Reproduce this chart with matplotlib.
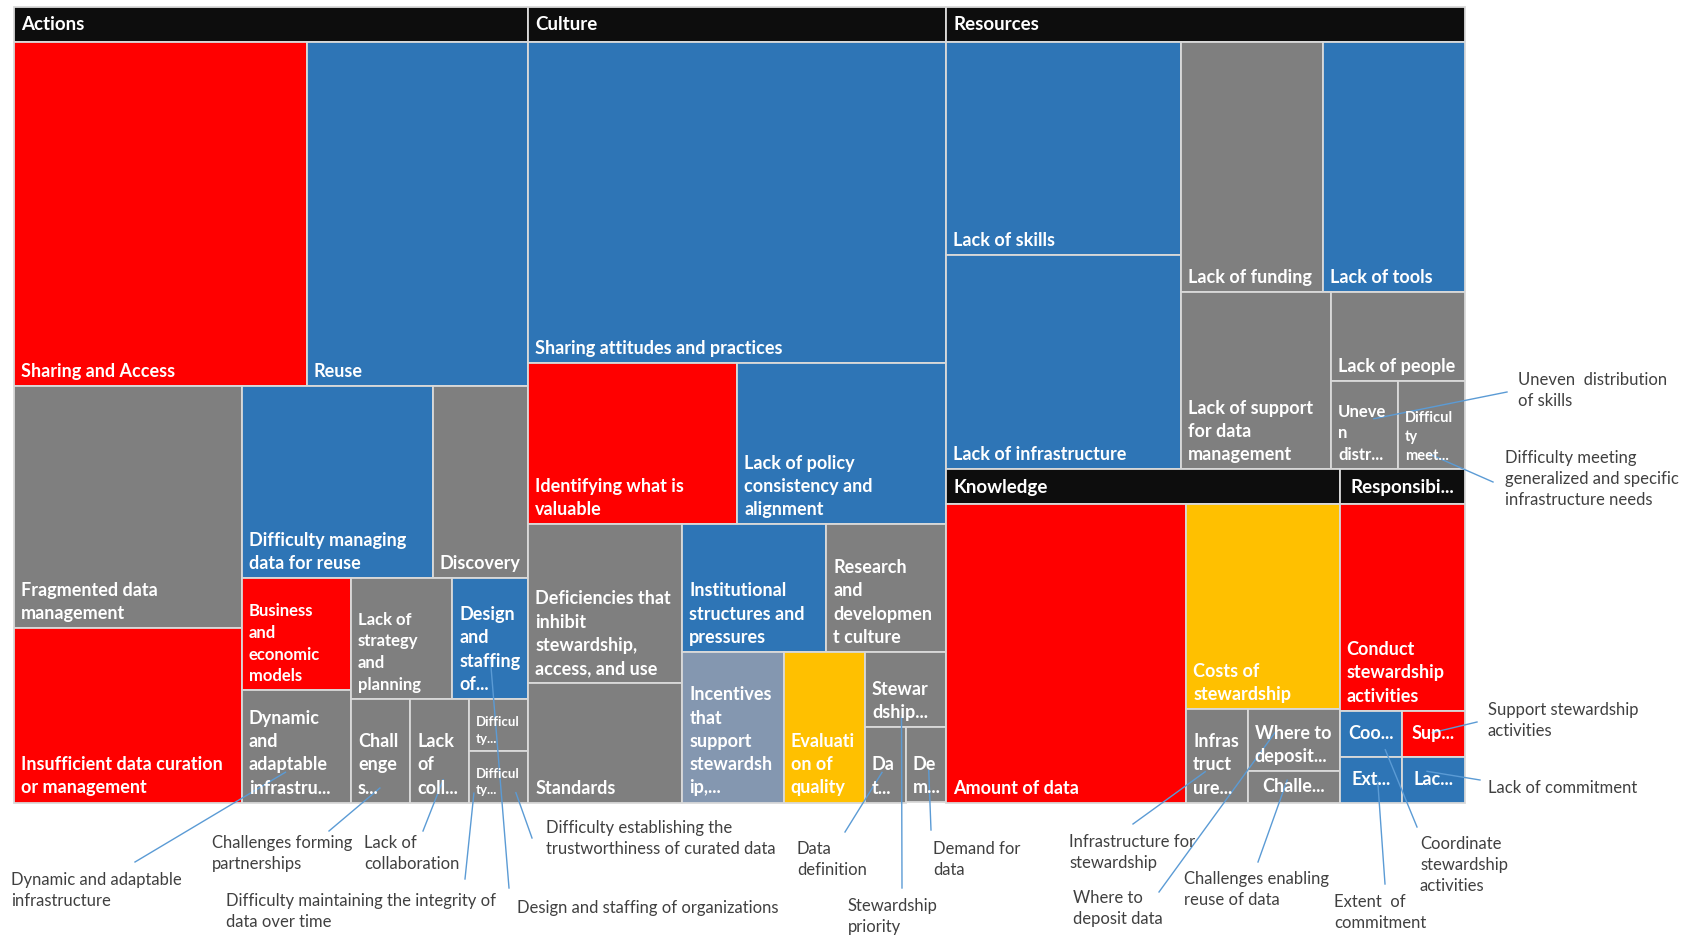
import matplotlib.pyplot as plt
from matplotlib.patches import Rectangle

plt.rcParams['font.family'] = ['Lato', 'DejaVu Sans']

RED = '#FF0000'
BLUE = '#2E75B6'
GRAY = '#7F7F7F'
GOLD = '#FFC000'
SLATE = '#8497B0'

# ---- data (counts) ----
group_names = ['Actions', 'Culture', 'Resources', 'Knowledge', 'Responsibilities']
group_labels = ['Actions', 'Culture', 'Resources', 'Knowledge', 'Responsibi...']

actions_items = ['Sharing and Access', 'Reuse', 'Fragmented data management',
                 'Insufficient data curation or management', 'Difficulty managing data for reuse',
                 'Discovery', 'Business and economic models', 'Dynamic and adaptable infrastructure',
                 'Lack of strategy and planning', 'Design and staffing of organizations',
                 'Challenges forming partnerships', 'Lack of collaboration',
                 'Difficulty maintaining the integrity of data over time',
                 'Difficulty establishing the trustworthiness of curated data']
actions_counts = [33, 25, 18, 13, 12, 6, 4, 4, 4, 3, 2, 2, 1, 1]
actions_colors = [RED, BLUE, GRAY, RED, BLUE, GRAY, RED, GRAY, GRAY, BLUE, GRAY, GRAY, GRAY, GRAY]
actions_labels = ['Sharing and Access', 'Reuse', 'Fragmented data\nmanagement',
                  'Insufficient data curation\nor management', 'Difficulty managing\ndata for reuse',
                  'Discovery', 'Business\nand\neconomic\nmodels', 'Dynamic\nand\nadaptable\ninfrastru...',
                  'Lack of\nstrategy\nand\nplanning', 'Design\nand\nstaffing\nof...',
                  'Chall\nenge\ns...', 'Lack\nof\ncoll...', 'Difficul\nty...', 'Difficul\nty...']

culture_items = ['Sharing attitudes and practices', 'Identifying what is valuable',
                 'Lack of policy consistency and alignment',
                 'Deficiencies that inhibit stewardship, access, and use', 'Standards',
                 'Institutional structures and pressures', 'Research and development culture',
                 'Incentives that support stewardship', 'Evaluation of quality',
                 'Stewardship priority', 'Data definition', 'Demand for data']
culture_counts = [44, 11, 11, 8, 6, 6, 5, 5, 4, 2, 1, 1]
culture_colors = [BLUE, RED, BLUE, GRAY, GRAY, BLUE, GRAY, SLATE, GOLD, GRAY, GRAY, GRAY]
culture_labels = ['Sharing attitudes and practices', 'Identifying what is\nvaluable',
                  'Lack of policy\nconsistency and\nalignment',
                  'Deficiencies that\ninhibit\nstewardship,\naccess, and use', 'Standards',
                  'Institutional\nstructures and\npressures', 'Research\nand\ndevelopmen\nt culture',
                  'Incentives\nthat\nsupport\nstewardsh\nip,...', 'Evaluati\non of\nquality',
                  'Stewar\ndship...', 'Da\nt...', 'De\nm...']

resources_items = ['Lack of skills', 'Lack of infrastructure', 'Lack of funding', 'Lack of tools',
                   'Lack of support for data management', 'Lack of people',
                   'Uneven distribution of skills',
                   'Difficulty meeting generalized and specific infrastructure needs']
resources_counts = [17, 17, 12, 12, 9, 4, 2, 2]
resources_colors = [BLUE, BLUE, GRAY, BLUE, GRAY, GRAY, GRAY, GRAY]
resources_labels = ['Lack of skills', 'Lack of infrastructure', 'Lack of funding', 'Lack of tools',
                    'Lack of support\nfor data\nmanagement', 'Lack of people',
                    'Uneve\nn\ndistr...', 'Difficul\nty\nmeet...']

knowledge_items = ['Amount of data', 'Costs of stewardship', 'Infrastructure for stewardship',
                   'Where to deposit data', 'Challenges enabling reuse of data']
knowledge_counts = [25, 11, 2, 2, 1]
knowledge_colors = [RED, GOLD, GRAY, GRAY, GRAY]
knowledge_labels = ['Amount of data', 'Costs of\nstewardship', 'Infras\ntruct\nure...',
                    'Where to\ndeposit...', 'Challe...']

resp_items = ['Conduct stewardship activities', 'Coordinate stewardship activities',
              'Extent of commitment', 'Support stewardship activities', 'Lack of commitment']
resp_counts = [9, 1, 1, 1, 1]
resp_colors = [RED, BLUE, BLUE, RED, BLUE]
resp_labels = ['Conduct\nstewardship\nactivities', 'Coo...', 'Ext...', 'Sup...', 'Lac...']

groups = [
    (actions_items, actions_counts, actions_colors, actions_labels),
    (culture_items, culture_counts, culture_colors, culture_labels),
    (resources_items, resources_counts, resources_colors, resources_labels),
    (knowledge_items, knowledge_counts, knowledge_colors, knowledge_labels),
    (resp_items, resp_counts, resp_colors, resp_labels),
]

# callouts: item, anchor (fraction of its cell), text, text left/top, line end
callout_items = ['Dynamic and adaptable infrastructure', 'Challenges forming partnerships',
                 'Lack of collaboration', 'Difficulty maintaining the integrity of data over time',
                 'Design and staffing of organizations',
                 'Difficulty establishing the trustworthiness of curated data',
                 'Data definition', 'Stewardship priority', 'Demand for data',
                 'Infrastructure for stewardship', 'Where to deposit data',
                 'Challenges enabling reuse of data', 'Extent of commitment',
                 'Coordinate stewardship activities', 'Support stewardship activities',
                 'Lack of commitment', 'Uneven distribution of skills',
                 'Difficulty meeting generalized and specific infrastructure needs']
callout_texts = ['Dynamic and adaptable\ninfrastructure', 'Challenges forming\npartnerships',
                 'Lack of\ncollaboration', 'Difficulty maintaining the integrity of\ndata over time',
                 'Design and staffing of organizations',
                 'Difficulty establishing the\ntrustworthiness of curated data',
                 'Data\ndefinition', 'Stewardship\npriority', 'Demand for\ndata',
                 'Infrastructure for\nstewardship', 'Where to\ndeposit data',
                 'Challenges enabling\nreuse of data', 'Extent  of\ncommitment',
                 'Coordinate\nstewardship\nactivities', 'Support stewardship\nactivities',
                 'Lack of commitment', 'Uneven  distribution\nof skills',
                 'Difficulty meeting\ngeneralized and specific\ninfrastructure needs']
callout_anchor = [(0.40, 0.73), (0.49, 0.86), (0.56, 0.78), (0.08, 1.82), (0.50, 0.66),
                  (0.79, 0.81), (0.42, 0.60), (0.45, 0.87), (0.57, 0.57), (0.31, 0.67),
                  (0.30, 0.37), (0.43, 0.28), (0.61, 0.55), (0.73, 0.85), (0.48, 0.48),
                  (0.40, 0.32), (0.64, 0.43), (0.48, 0.83)]
callout_text_pos = [(11, 872), (212, 835), (364, 835), (226, 893), (517, 900), (546, 820),
                    (797, 841), (848, 898), (933, 841), (1069, 834), (1073, 890), (1184, 871),
                    (1334, 894), (1420, 836), (1488, 702), (1488, 780), (1518, 372), (1505, 450)]
callout_line_end = [(135, 862), (329, 831), (423, 831), (465, 879), (509, 888), (532, 838),
                    (845, 832), (902, 888), (931, 830), (1133, 824), (1159, 892), (1258, 862),
                    (1385, 884), (1417, 827), (1477, 722), (1480, 780), (1507, 392), (1493, 482)]

# smaller fonts where Excel shrank the label
label_fontsize = {'Business and economic models': 12, 'Lack of strategy and planning': 12,
                  'Difficulty maintaining the integrity of data over time': 9.5,
                  'Difficulty establishing the trustworthiness of curated data': 9.5,
                  'Difficulty meeting generalized and specific infrastructure needs': 10.5,
                  'Uneven distribution of skills': 12}

# ---- layout ----
X0, Y0, X1, Y1 = 14, 6.5, 1464.5, 802.5
HEADER_H = 35
EDGE = '#D9D9D9'


def worst(row, side):
    s = sum(row)
    return max(max(side * side * r / (s * s), s * s / (side * side * r)) for r in row)


def squarify(values, x, y, w, h):
    total = float(sum(values))
    areas = [v * w * h / total for v in values]
    rects = []
    i = 0
    while i < len(areas):
        side = min(w, h)
        row = [areas[i]]
        j = i + 1
        while j < len(areas) and worst(row + [areas[j]], side) <= worst(row, side):
            row.append(areas[j])
            j += 1
        s = sum(row)
        if w >= h:
            rw = s / h
            yy = y
            for a in row:
                rects.append((x, yy, rw, a / rw))
                yy += a / rw
            x += rw
            w -= rw
        else:
            rh = s / w
            xx = x
            for a in row:
                rects.append((xx, y, a / rh, rh))
                xx += a / rh
            y += rh
            h -= rh
        i = j
    return rects


fig = plt.figure(figsize=(16.96, 9.36), dpi=100)
ax = fig.add_axes([0, 0, 1, 1])
ax.set_xlim(0, 1696)
ax.set_ylim(936, 0)
ax.axis('off')

group_totals = [sum(g[1]) for g in groups]
group_rects = squarify(group_totals, X0, Y0, X1 - X0, Y1 - Y0)

cells = {}
for (items, counts, colors, labels), glabel, (gx, gy, gw, gh) in zip(groups, group_labels, group_rects):
    ax.add_patch(Rectangle((gx, gy), gw, HEADER_H, facecolor='#0D0D0D', edgecolor=EDGE, lw=1.3))
    if glabel.endswith('...'):
        ax.text(gx + gw / 2, gy + HEADER_H / 2 + 1, glabel, color='white', fontsize=13.5,
                fontweight='bold', ha='center', va='center')
    else:
        ax.text(gx + 7, gy + HEADER_H / 2 + 1, glabel, color='white', fontsize=13.5,
                fontweight='bold', ha='left', va='center')
    rects = squarify(counts, gx, gy + HEADER_H, gw, gh - HEADER_H)
    for name, c, lab, (x, y, w, h) in zip(items, colors, labels, rects):
        cells[name] = (x, y, w, h)
        ax.add_patch(Rectangle((x, y), w, h, facecolor=c, edgecolor=EDGE, lw=1.3))
        fs = label_fontsize.get(name, 13)
        if '\n' not in lab and lab.endswith('...'):
            ax.text(x + w / 2, y + h / 2, lab, color='white', fontsize=fs, fontweight='bold',
                    ha='center', va='center')
        else:
            ax.text(x + 7, y + h - 6, lab, color='white', fontsize=fs, fontweight='bold',
                    ha='left', va='bottom', linespacing=1.45)

for name, txt, (fx, fy), (tx, ty), (lx, ly) in zip(callout_items, callout_texts, callout_anchor,
                                                   callout_text_pos, callout_line_end):
    x, y, w, h = cells[name]
    ax.plot([x + fx * w, lx], [y + fy * h, ly], color='#5B9BD5', lw=1.0)
    ax.text(tx, ty, txt, color='#404040', fontsize=12, ha='left', va='top', linespacing=1.38)

fig.savefig('out.png', dpi=100)
